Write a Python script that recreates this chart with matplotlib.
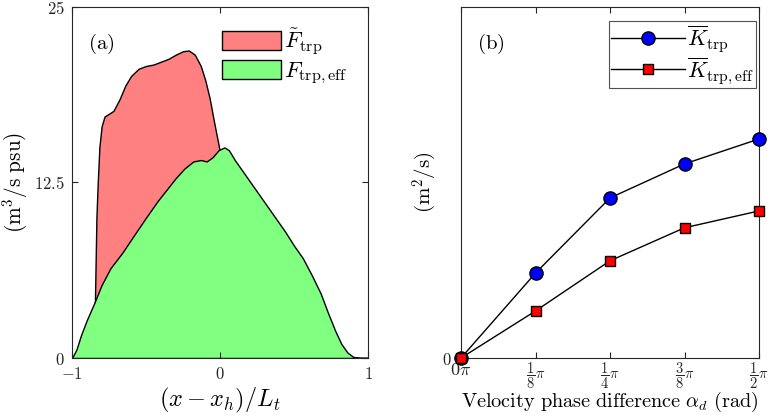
import numpy as np
import matplotlib
matplotlib.use('Agg')
import matplotlib.pyplot as plt

plt.rcParams['mathtext.fontset'] = 'cm'
plt.rcParams['font.family'] = 'serif'
plt.rcParams['font.serif'] = ['DejaVu Serif']
plt.rcParams['axes.unicode_minus'] = False

# ---------------- donnees panneau (a) ----------------
x_trp = [-0.85, -0.845, -0.835, -0.826, -0.815, -0.80, -0.78, -0.75, -0.72, -0.68,
         -0.64, -0.60, -0.55, -0.50, -0.45, -0.40, -0.35, -0.30, -0.25, -0.21,
         -0.17, -0.13, -0.10, -0.07, -0.04, -0.01, 0.02, 0.05, 0.10, 0.20,
         0.40, 0.60, 0.80, 1.0]
f_trp = [0, 4, 10, 12.5, 15.0, 16.5, 17.2, 17.4, 17.6, 18.4,
         19.4, 20.1, 20.6, 20.8, 20.9, 21.1, 21.3, 21.6, 21.85, 21.9,
         21.6, 20.8, 19.8, 18.5, 16.8, 15.2, 13.5, 11.0, 8.0, 5.0,
         2.0, 0.5, 0.0, 0.0]

x_eff = [-1.0, -0.97, -0.94, -0.90, -0.85, -0.80, -0.74, -0.66, -0.59, -0.50,
         -0.42, -0.36, -0.30, -0.24, -0.18, -0.13, -0.09, -0.05, -0.01, 0.03,
         0.06, 0.10, 0.14, 0.20, 0.26, 0.32, 0.38, 0.44, 0.50, 0.56,
         0.62, 0.68, 0.73, 0.78, 0.82, 0.86, 0.90, 0.95, 1.0]
f_eff = [0, 0.6, 1.6, 2.7, 3.9, 5.2, 6.4, 7.5, 8.6, 10.0,
         11.2, 12.0, 12.8, 13.5, 14.0, 14.1, 14.0, 14.3, 14.8, 15.0,
         14.8, 14.1, 13.5, 12.6, 11.7, 10.8, 9.9, 9.0, 8.0, 7.1,
         5.9, 4.6, 3.2, 1.9, 1.0, 0.4, 0.08, 0.0, 0.0]

# ---------------- donnees panneau (b) ----------------
alpha_d = [0, 1/8, 1/4, 3/8, 1/2]   # en unites de pi
alpha_labels = [r'$0\pi$', r'$\dfrac{1}{8}\pi$', r'$\dfrac{1}{4}\pi$',
                r'$\dfrac{3}{8}\pi$', r'$\dfrac{1}{2}\pi$']
K_trp = [0, 0.242, 0.456, 0.553, 0.624]
K_eff = [0, 0.134, 0.277, 0.371, 0.419]

axcol = '#262626'

fig = plt.figure(figsize=(7.7, 4.15), dpi=100)
ax1 = fig.add_axes([72/770, 57/415, 296/770, 351/415])
ax2 = fig.add_axes([461/770, 57/415, 298/770, 351/415])

# ---------------- (a) ----------------
ax1.fill_between(x_trp, f_trp, color='#ff8080', edgecolor='black', linewidth=1.0,
                 label=r'$\tilde{F}_{\mathrm{trp}}$')
ax1.fill_between(x_eff, f_eff, color='#80ff80', edgecolor='black', linewidth=1.0,
                 label=r'$F_{\mathrm{trp,eff}}$')
ax1.set_xlim(-1, 1)
ax1.set_ylim(0, 25)
ax1.set_xticks([-1, 0, 1])
ax1.set_xticklabels([r'$\mathrm{-1}$', r'$0$', r'$1$'])
ax1.set_yticks([0, 12.5, 25])
ax1.set_yticklabels([r'$0$', r'$12.5$', r'$25$'])
ax1.set_xlabel(r'$(x-x_h)/L_t$', fontsize=17.5, va='center')
ax1.xaxis.set_label_coords(0.5, -0.122)
ax1.set_ylabel(r'$(\mathrm{m}^3/\mathrm{s\ psu})$', fontsize=15.3, va='center')
ax1.yaxis.set_label_coords(-0.193, 0.5)
ax1.text(0.055, 0.88, r'$\mathrm{(a)}$', transform=ax1.transAxes, fontsize=15)
leg1 = ax1.legend(loc='upper left', bbox_to_anchor=(0.44, 1.0), frameon=False,
                  fontsize=16.5, handlelength=2.6, handleheight=0.9,
                  handletextpad=0.12, borderpad=0.35, labelspacing=0.12)
for p in leg1.get_patches():
    p.set_linewidth(1.0)

# ---------------- (b) ----------------
ax2.plot(alpha_d, K_trp, '-o', color='black', linewidth=1.0, markersize=9.5,
         markerfacecolor='#0000ff', markeredgecolor='black', clip_on=False,
         zorder=3, label=r'$\overline{K}_{\mathrm{trp}}$')
ax2.plot(alpha_d, K_eff, '-s', color='black', linewidth=1.0, markersize=7,
         markerfacecolor='#ff0000', markeredgecolor='black', clip_on=False,
         zorder=4, label=r'$\overline{K}_{\mathrm{trp,eff}}$')
ax2.set_xlim(0, 0.5)
ax2.set_ylim(0, 1)
ax2.set_xticks(alpha_d)
ax2.set_xticklabels(alpha_labels)
ax2.set_yticks([0])
ax2.set_yticklabels([r'$0$'])
ax2.set_xlabel(r'$\mathrm{Velocity\ phase\ difference}\ \alpha_d\ \mathrm{(rad)}$',
               fontsize=14.6, va='center')
ax2.xaxis.set_label_coords(0.5, -0.125)
ax2.set_ylabel(r'$(\mathrm{m}^2/\mathrm{s})$', fontsize=15, va='center')
ax2.yaxis.set_label_coords(-0.121, 0.5)
ax2.text(0.055, 0.88, r'$\mathrm{(b)}$', transform=ax2.transAxes, fontsize=15)
leg2 = ax2.legend(loc='upper right', bbox_to_anchor=(0.99, 0.96), frameon=True,
                  fancybox=False, edgecolor=axcol, fontsize=16, handlelength=3.3,
                  handletextpad=0.1, borderpad=0.1, labelspacing=0.0,
                  borderaxespad=0.0)
leg2.get_frame().set_linewidth(0.8)

for ax in (ax1, ax2):
    ax.tick_params(direction='in', top=True, right=True, labelsize=12,
                   colors=axcol, length=4, width=0.8)
    ax.tick_params(axis='y', pad=5)
    for s in ax.spines.values():
        s.set_color(axcol)
        s.set_linewidth(0.8)
ax1.tick_params(axis='x', pad=6)
ax2.tick_params(axis='x', pad=2, labelsize=10.5)
ax2.tick_params(axis='y', pad=7)
# le label 0pi est plus grand (pas de fraction)
ax2.get_xticklabels()[0].set_fontsize(13)

fig.savefig('out.png', dpi=100)
